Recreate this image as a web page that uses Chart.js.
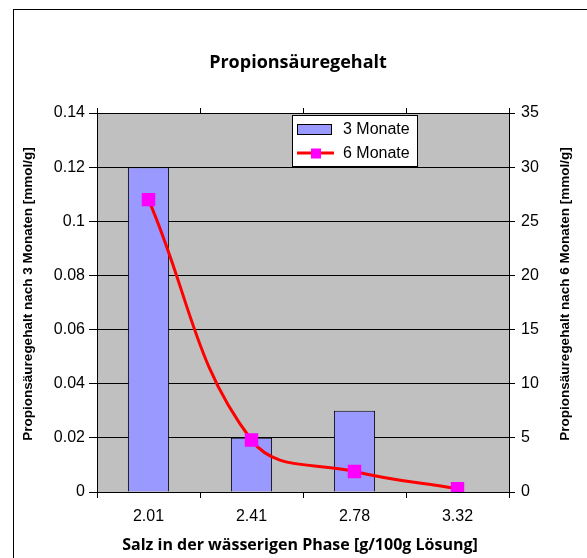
<!DOCTYPE html>
<html>
<head>
<meta charset="utf-8">
<script src="https://cdn.jsdelivr.net/npm/chart.js@4"></script>
<style>
  html, body { margin: 0; padding: 0; background: #fff; }
  canvas { display: block; }
</style>
</head>
<body>
<canvas id="chart" width="587" height="558"></canvas>
<script>
// -------------------------------
// Data
// -------------------------------
const categories = ['2.01', '2.41', '2.78', '3.32'];
const months3 = [0.12, 0.02, 0.03, 0];      // left axis [mmol/g]
const months6 = [27, 4.8, 1.9, 0.3];        // right axis [mmol/g]
const seriesNames = ['3 Monate', '6 Monate'];

const chartTitle = 'Propionsäuregehalt';
const xTitle = 'Salz in der wässerigen Phase [g/100g Lösung]';
const yLeftTitle = 'Propionsäuregehalt nach 3 Monaten [mmol/g]';
const yRightTitle = 'Propionsäuregehalt nach 6 Monaten [mmol/g]';

const TICK_FONT = { family: 'Liberation Sans', size: 16 };

// -------------------------------
// Drawing helpers (frame, titles, legend)
// -------------------------------
const excelFrame = {
    id: 'excelFrame',
    beforeDraw(chart) {
        const { ctx, chartArea: a } = chart;
        ctx.save();
        ctx.fillStyle = '#fff';
        ctx.fillRect(0, 0, chart.width, chart.height);
        ctx.strokeStyle = '#000';
        ctx.lineWidth = 1;
        ctx.strokeRect(13.5, 9.5, chart.width + 20, chart.height + 20);
        ctx.fillStyle = '#C0C0C0';
        ctx.fillRect(a.left, a.top, a.right - a.left, a.bottom - a.top);
        ctx.restore();
    },
    afterDraw(chart) {
        const { ctx } = chart;
        ctx.save();
        ctx.fillStyle = '#000';
        ctx.textAlign = 'center';
        ctx.textBaseline = 'middle';

        ctx.font = 'bold 18px "Open Sans"';
        ctx.fillText(chartTitle, 298, 63);
        ctx.font = 'bold 16px "Open Sans"';
        ctx.fillText(xTitle, 300, 545);

        ctx.font = 'bold 13.5px "Liberation Sans"';
        [[28, yLeftTitle], [565, yRightTitle]].forEach(([x, txt]) => {
            ctx.save();
            ctx.translate(x, 294);
            ctx.rotate(-Math.PI / 2);
            ctx.fillText(txt, 0, 0);
            ctx.restore();
        });

        // legend box
        const bar = chart.data.datasets[1];
        const line = chart.data.datasets[0];
        ctx.fillStyle = '#fff';
        ctx.fillRect(292.5, 115.5, 125, 51);
        ctx.strokeStyle = '#000';
        ctx.lineWidth = 1;
        ctx.strokeRect(292.5, 115.5, 125, 51);

        ctx.fillStyle = bar.backgroundColor;
        ctx.fillRect(297.5, 124.5, 34, 10);
        ctx.strokeRect(297.5, 124.5, 34, 10);

        ctx.strokeStyle = line.borderColor;
        ctx.lineWidth = line.borderWidth;
        ctx.beginPath();
        ctx.moveTo(297, 153);
        ctx.lineTo(334, 153);
        ctx.stroke();
        ctx.fillStyle = line.pointBackgroundColor;
        ctx.fillRect(311, 148.5, 10, 10);

        ctx.fillStyle = '#000';
        ctx.textAlign = 'left';
        ctx.font = '16px "Liberation Sans"';
        ctx.fillText(bar.label, 343, 130);
        ctx.fillText(line.label, 343, 154);
        ctx.restore();
    }
};

// -------------------------------
// Chart.js Setup
// -------------------------------
Chart.defaults.font.family = 'Liberation Sans';
Chart.defaults.color = '#000';

const fmt = v => Number(v.toFixed(2)).toString();

const ctx = document.getElementById('chart').getContext('2d');
const chart = new Chart(ctx, {
    data: {
        labels: categories,
        datasets: [
            {
                type: 'line',
                label: seriesNames[1],
                data: months6,
                yAxisID: 'y2',
                xAxisID: 'x',
                order: 0,
                borderColor: '#FF0000',
                borderWidth: 3,
                tension: 0.4,
                pointStyle: 'rect',
                pointRadius: 9.5,
                pointBackgroundColor: '#FF00FF',
                pointBorderColor: '#FF00FF',
                pointBorderWidth: 0
            },
            {
                type: 'bar',
                label: seriesNames[0],
                data: months3,
                yAxisID: 'y',
                xAxisID: 'x',
                order: 1,
                backgroundColor: '#9999FF',
                borderColor: '#000',
                borderWidth: 1,
                barPercentage: 0.4,
                categoryPercentage: 1
            }
        ]
    },
    options: {
        responsive: false,
        animation: false,
        layout: { padding: 0 },
        plugins: {
            legend: { display: false },
            title: { display: false },
            tooltip: { enabled: false }
        },
        scales: {
            x: {
                type: 'category',
                position: 'bottom',
                offset: true,
                grid: { offset: true, drawOnChartArea: false, tickLength: 6, color: '#000' },
                border: { color: '#000' },
                ticks: { font: TICK_FONT, padding: 9, maxRotation: 0 },
                afterFit: s => { s.height = 66; }
            },
            x2: {
                type: 'category',
                position: 'top',
                labels: categories,
                offset: true,
                grid: { offset: true, drawOnChartArea: false, tickLength: 5, color: '#000' },
                border: { color: '#000' },
                ticks: { display: false },
                afterFit: s => { s.height = 113; }
            },
            y: {
                position: 'left',
                min: 0,
                max: 0.14,
                grid: { color: '#000', tickLength: 8 },
                border: { color: '#000' },
                ticks: { stepSize: 0.02, font: TICK_FONT, padding: 4, callback: fmt },
                afterFit: s => { s.width = 97; }
            },
            y2: {
                position: 'right',
                min: 0,
                max: 35,
                grid: { drawOnChartArea: false, color: '#000', tickLength: 6 },
                border: { color: '#000' },
                ticks: { stepSize: 5, font: TICK_FONT, padding: 6 },
                afterFit: s => { s.width = 78; }
            }
        }
    },
    plugins: [excelFrame]
});
</script>
</body>
</html>
